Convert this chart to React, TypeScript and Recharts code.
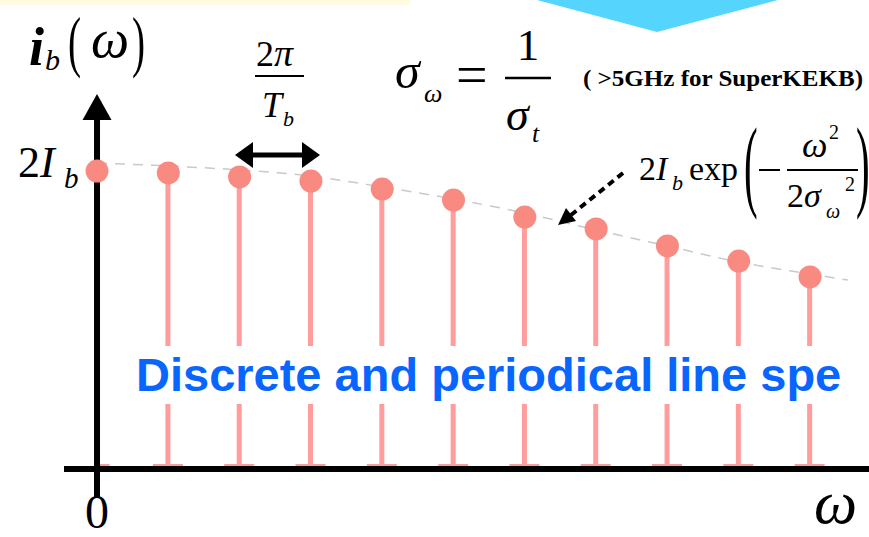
import React from 'react';
import { ComposedChart, Bar, Line, XAxis, YAxis, ReferenceLine } from 'recharts';

// harmonic index n (omega = n * 2pi / T_b)
const harmonics = [0, 1, 2, 3, 4, 5, 6, 7, 8, 9, 10];
// line amplitudes in units of I_b
const amplitudes = [2.0, 1.987, 1.96, 1.933, 1.879, 1.805, 1.691, 1.611, 1.497, 1.396, 1.289];
// gaussian envelope 2 I_b exp(-w^2 / 2 sigma_w^2)
const envelopeX = [0, 1, 2, 3, 4, 5, 6, 7, 8, 9, 10, 10.53];
const envelopeY = [2.054, 2.034, 2.007, 1.966, 1.893, 1.812, 1.718, 1.604, 1.497, 1.389, 1.309, 1.268];
const xTicks = [0];
const xTickLabels = ['0'];

const lineData = harmonics.map((n, i) => ({ n, amp: amplitudes[i] }));
const envData = envelopeX.map((n, i) => ({ n, env: envelopeY[i] }));

const SERIF = '"Liberation Serif", "DejaVu Serif", serif';
const STEM = '#FF9C9C';
const DOT = '#F98A82';

const Stem = (props: any) => {
  const { x, y, width, height, index } = props;
  if (x == null || height == null) return null;
  const cx = x + width / 2;
  const base = y + height;
  const w = index === 0 ? 2 : 5;
  return (
    <g>
      <rect x={cx - w / 2} y={y} width={w} height={height} fill={STEM} />
      {index === 0 ? (
        <rect x={cx} y={base - 5} width={13} height={2} fill="#F4A0A0" />
      ) : (
        <rect x={cx - 15} y={base - 5} width={30} height={2} fill="#F4A0A0" />
      )}
    </g>
  );
};

const AxisArrow = (p: any) => {
  const x = p.x1;
  const top = Math.min(p.y1, p.y2);
  const bottom = Math.max(p.y1, p.y2);
  return (
    <g>
      <line x1={x} x2={x} y1={top + 20} y2={bottom} stroke="#000" strokeWidth={6} />
      <polygon points={`${x},${top} ${x - 14.5},${top + 26} ${x + 14.5},${top + 26}`} fill="#000" />
    </g>
  );
};

const ZeroTick = (props: any) => {
  const { x, y, index } = props;
  return (
    <text x={x} y={y + 29} textAnchor="middle" fontFamily={SERIF} fontSize={48} fill="#000">
      {xTickLabels[index] ?? '0'}
    </text>
  );
};

function Annotations() {
  return (
    <svg
      width={869}
      height={537}
      style={{ position: 'absolute', left: 0, top: 0, overflow: 'hidden', pointerEvents: 'none' }}
    >
      {/* decorations at top */}
      <rect x={0} y={0} width={410} height={5} fill="#FFFBE1" />
      <polygon points="537,0 778,0 657,32" fill="#55D5FD" />

      {/* i_b(omega) */}
      <text fontFamily={SERIF} fill="#000">
        <tspan x={29} y={65} fontSize={54} fontStyle="italic" fontWeight="bold">i</tspan>
        <tspan x={45} y={70} fontSize={30} fontStyle="italic">b</tspan>
      </text>
      <text transform="translate(68,64) scale(0.7,1.2)" fontFamily={SERIF} fontSize={56} fill="#000">(</text>
      <text x={91} y={57} fontFamily={SERIF} fontSize={54} fontStyle="italic" fill="#000">ω</text>
      <text transform="translate(132,64) scale(0.7,1.2)" fontFamily={SERIF} fontSize={56} fill="#000">)</text>

      {/* 2 I_b label */}
      <text fontFamily={SERIF} fill="#000">
        <tspan x={18} y={177} fontSize={44}>2</tspan>
        <tspan fontSize={44} fontStyle="italic">I</tspan>
        <tspan x={64} y={188} fontSize={29} fontStyle="italic">b</tspan>
      </text>

      {/* 2pi / T_b */}
      <text fontFamily={SERIF} fill="#000">
        <tspan x={256} y={66} fontSize={36}>2</tspan>
        <tspan fontSize={38} fontStyle="italic">π</tspan>
      </text>
      <line x1={255} x2={304} y1={76} y2={76} stroke="#000" strokeWidth={2} />
      <text fontFamily={SERIF} fill="#000">
        <tspan x={262} y={117} fontSize={36} fontStyle="italic">T</tspan>
        <tspan x={283} y={126} fontSize={22} fontStyle="italic">b</tspan>
      </text>
      {/* double arrow */}
      <line x1={248} x2={307} y1={155} y2={155} stroke="#000" strokeWidth={5} />
      <polygon points="235,155 253,142 253,168" fill="#000" />
      <polygon points="320,155 302,142 302,168" fill="#000" />

      {/* sigma_omega = 1 / sigma_t */}
      <text fontFamily={SERIF} fill="#000">
        <tspan x={395} y={88} fontSize={50} fontStyle="italic">σ</tspan>
        <tspan x={424} y={102} fontSize={26} fontStyle="italic">ω</tspan>
      </text>
      <text x={456} y={94} fontFamily={SERIF} fontSize={56} fill="#000">=</text>
      <text x={528} y={60} textAnchor="middle" fontFamily={SERIF} fontSize={45} fill="#000">1</text>
      <line x1={505} x2={551} y1={78} y2={78} stroke="#000" strokeWidth={2.5} />
      <text fontFamily={SERIF} fill="#000">
        <tspan x={506} y={130} fontSize={46} fontStyle="italic">σ</tspan>
        <tspan x={532} y={142} fontSize={26} fontStyle="italic">t</tspan>
      </text>
      <text x={583} y={86} fontFamily={SERIF} fontSize={24} fontWeight="bold" fill="#000" textLength={280} lengthAdjust="spacingAndGlyphs">
        ( &gt;5GHz for SuperKEKB)
      </text>

      {/* 2 I_b exp(-w^2 / 2 sigma_w^2) */}
      <text fontFamily={SERIF} fill="#000">
        <tspan x={639} y={180} fontSize={34}>2</tspan>
        <tspan fontSize={34} fontStyle="italic">I</tspan>
        <tspan x={672} y={190} fontSize={22} fontStyle="italic">b</tspan>
        <tspan x={689} y={180} fontSize={34}>exp</tspan>
      </text>
      <text transform="translate(744,198) scale(0.5,1.25)" fontFamily={SERIF} fontSize={82} fill="#000">(</text>
      <line x1={759} x2={780} y1={170} y2={170} stroke="#000" strokeWidth={2} />
      <line x1={787} x2={858} y1={170} y2={170} stroke="#000" strokeWidth={2} />
      <text fontFamily={SERIF} fill="#000">
        <tspan x={802} y={157} fontSize={36} fontStyle="italic">ω</tspan>
        <tspan x={829} y={139} fontSize={20}>2</tspan>
      </text>
      <text fontFamily={SERIF} fill="#000">
        <tspan x={787} y={207} fontSize={34}>2</tspan>
        <tspan fontSize={34} fontStyle="italic">σ</tspan>
        <tspan x={826} y={218} fontSize={20} fontStyle="italic">ω</tspan>
        <tspan x={845} y={191} fontSize={20}>2</tspan>
      </text>
      <text transform="translate(856,198) scale(0.5,1.25)" fontFamily={SERIF} fontSize={82} fill="#000">)</text>

      {/* dashed pointer arrow */}
      <line x1={623} y1={173} x2={571} y2={215} stroke="#000" strokeWidth={4} strokeDasharray="7 5" />
      <polygon points="558,225 576,221 566,208" fill="#000" />

      {/* caption */}
      <rect x={122} y={346} width={747} height={58} fill="#fff" />
      <text
        x={136}
        y={391}
        fontFamily='"Liberation Sans", Arial, sans-serif'
        fontWeight="bold"
        fontSize={47}
        fill="#0866FF"
      >
        Discrete and periodical line spe
      </text>

      {/* omega axis label */}
      <text x={814} y={523} fontFamily={SERIF} fontSize={61} fontStyle="italic" fill="#000">ω</text>
    </svg>
  );
}

export default function App() {
  return (
    <div style={{ position: 'absolute', left: 0, top: 0, width: 869, height: 537, background: '#fff', overflow: 'hidden' }}>
      <ComposedChart width={869} height={537} data={lineData} margin={{ top: 94, right: 0, bottom: 0, left: 64 }}>
        <XAxis
          type="number"
          dataKey="n"
          domain={[-0.463, 10.827]}
          allowDataOverflow
          ticks={xTicks}
          interval={0}
          height={68}
          tickSize={28}
          tickLine={{ stroke: '#000', strokeWidth: 6 }}
          axisLine={{ stroke: '#000', strokeWidth: 6 }}
          tick={<ZeroTick />}
        />
        <YAxis hide type="number" domain={[0, 2.517]} allowDataOverflow />
        <ReferenceLine x={0} stroke="#000" strokeWidth={6} shape={AxisArrow} ifOverflow="visible" />
        <Bar dataKey="amp" barSize={5} shape={Stem} isAnimationActive={false} />
        <Line
          data={envData}
          dataKey="env"
          type="monotone"
          stroke="#C9C9C9"
          strokeWidth={1.5}
          strokeDasharray="10 8"
          dot={false}
          activeDot={false}
          isAnimationActive={false}
        />
        <Line
          dataKey="amp"
          stroke="none"
          dot={{ r: 11.5, fill: DOT, stroke: 'none' }}
          activeDot={false}
          isAnimationActive={false}
        />
      </ComposedChart>
      <Annotations />
    </div>
  );
}
